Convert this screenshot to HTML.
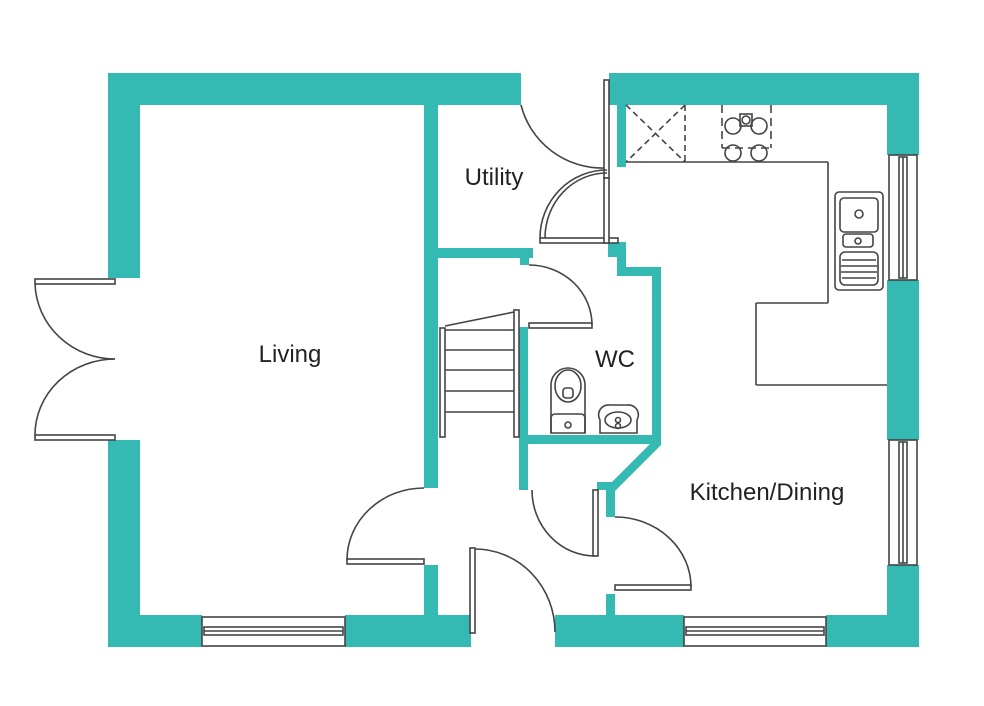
<!DOCTYPE html>
<html><head><style>html,body{margin:0;padding:0;background:#fff}svg{display:block}text{font-family:"Liberation Sans",sans-serif;fill:#222}</style></head>
<body>
<svg width="984" height="706" viewBox="0 0 984 706" xmlns="http://www.w3.org/2000/svg">
<g fill="#34b9b3">
<rect x="108" y="73" width="32" height="205"/>
<rect x="108" y="440" width="32" height="207"/>
<rect x="108" y="73" width="413" height="32"/>
<rect x="609" y="73" width="310" height="32"/>
<rect x="887" y="73" width="32" height="82"/>
<rect x="887" y="280" width="32" height="160"/>
<rect x="887" y="565" width="32" height="82"/>
<rect x="108" y="615" width="94" height="32"/>
<rect x="345" y="615" width="126" height="32"/>
<rect x="555" y="615" width="129" height="32"/>
<rect x="826" y="615" width="93" height="32"/>
<rect x="424" y="105" width="14" height="383"/>
<rect x="424" y="565" width="14" height="50"/>
<rect x="438" y="248" width="95" height="10"/>
<rect x="520" y="258" width="9" height="7"/>
<rect x="617" y="105" width="9" height="62"/>
<rect x="608" y="242" width="18" height="15"/>
<rect x="617" y="257" width="9" height="19"/>
<rect x="617" y="267" width="44" height="9"/>
<rect x="652" y="267" width="9" height="173"/>
<rect x="519" y="327" width="9" height="163"/>
<rect x="519" y="435" width="142" height="9"/>
<polygon points="652,440 661,440 661,445 615,491 606,491 606,482 612,482 652,442"/>
<rect x="597" y="482" width="18" height="8"/>
<rect x="606" y="482" width="9" height="35"/>
<rect x="606" y="594" width="9" height="21"/>
</g>
<g fill="none" stroke="#444" stroke-width="1.6">
<!-- french doors -->
<rect x="35" y="279" width="80" height="5" fill="#fff"/>
<rect x="35" y="435" width="80" height="5" fill="#fff"/>
<path d="M35,284 A80,78 0 0 0 115,359"/>
<path d="M35,435 A80,76 0 0 1 115,359"/>
<!-- windows bottom -->
<rect x="202" y="617" width="143" height="29" fill="#fff"/>
<rect x="204" y="627" width="139" height="8"/>
<line x1="204" y1="631" x2="343" y2="631"/>
<rect x="684" y="617" width="142" height="29" fill="#fff"/>
<rect x="686" y="627" width="138" height="8"/>
<line x1="686" y1="631" x2="824" y2="631"/>
<!-- windows right -->
<rect x="889" y="155" width="28" height="125" fill="#fff"/>
<rect x="899" y="157" width="8" height="121"/>
<line x1="903" y1="157" x2="903" y2="278"/>
<rect x="889" y="440" width="28" height="125" fill="#fff"/>
<rect x="899" y="442" width="8" height="121"/>
<line x1="903" y1="442" x2="903" y2="563"/>
<!-- living door -->
<rect x="347" y="559" width="77" height="5" fill="#fff"/>
<path d="M347,560 A77,72 0 0 1 424,488"/>
<!-- front door -->
<rect x="470" y="548" width="5" height="85" fill="#fff"/>
<path d="M475,549 A80,83 0 0 1 555,632"/>
<!-- kitchen door -->
<rect x="615" y="585" width="76" height="5" fill="#fff"/>
<path d="M615,517 A76,70 0 0 1 691,587"/>
<!-- hall door -->
<rect x="593" y="490" width="5" height="66" fill="#fff"/>
<path d="M532,490 A63,66 0 0 0 595,556"/>
<!-- wc door -->
<rect x="529" y="323" width="63" height="5" fill="#fff"/>
<path d="M529,265 A63,60 0 0 1 592,325"/>
<!-- utility doors -->
<rect x="604" y="80" width="5" height="98" fill="#fff"/>
<path d="M521,105 A84,83 0 0 0 604,168"/>
<rect x="540" y="238" width="78" height="5" fill="#fff"/>
<rect x="604" y="178" width="5" height="65" fill="#fff"/>
<path d="M540,238 A67,68 0 0 1 607,170"/>
<path d="M545,238 A62,65 0 0 1 607,173"/>
<!-- stairs -->
<rect x="440" y="328" width="5" height="109" fill="#fff"/>
<rect x="514" y="310" width="5" height="127" fill="#fff"/>
<line x1="445" y1="326" x2="514" y2="312"/>
<line x1="445" y1="330" x2="514" y2="330"/>
<line x1="445" y1="350" x2="514" y2="350"/>
<line x1="445" y1="370" x2="514" y2="370"/>
<line x1="445" y1="391" x2="514" y2="391"/>
<line x1="445" y1="412" x2="514" y2="412"/>
<!-- wc fittings -->
<path d="M551,433 V385 A17,17 0 0 1 585,385 V433 Z"/>
<ellipse cx="568" cy="386" rx="13" ry="16"/>
<rect x="563" y="388" width="10" height="10" rx="3"/>
<path d="M551,433 V418 A4,4 0 0 1 555,414 H581 A4,4 0 0 1 585,418 V433"/>
<circle cx="568" cy="425" r="3"/>
<path d="M600,433 V420 A10,10 0 0 1 610,405 H627 A10,10 0 0 1 637,420 V433 Z"/>
<ellipse cx="618" cy="420" rx="13" ry="8"/>
<circle cx="618" cy="420" r="2.5"/><circle cx="618" cy="426" r="2.5"/>
<!-- kitchen counter -->
<line x1="626" y1="162" x2="828" y2="162"/>
<line x1="828" y1="162" x2="828" y2="303"/>
<line x1="756" y1="303" x2="828" y2="303"/>
<line x1="756" y1="303" x2="756" y2="385"/>
<line x1="756" y1="385" x2="887" y2="385"/>
<!-- sink -->
<rect x="835" y="192" width="48" height="98" rx="4"/>
<rect x="840" y="198" width="38" height="34" rx="4"/>
<circle cx="859" cy="214" r="4"/>
<rect x="843" y="234" width="30" height="13" rx="3"/>
<circle cx="858" cy="241" r="3"/>
<rect x="840" y="252" width="38" height="33" rx="5"/>
<line x1="842" y1="260" x2="876" y2="260"/><line x1="841" y1="266" x2="877" y2="266"/><line x1="841" y1="272" x2="877" y2="272"/><line x1="842" y1="278" x2="876" y2="278"/>
<!-- hob -->
<circle cx="733" cy="126" r="8"/><circle cx="759" cy="126" r="8"/>
<circle cx="733" cy="153" r="8"/><circle cx="759" cy="153" r="8"/>
<rect x="740" y="114" width="12" height="12"/><circle cx="746" cy="120" r="4"/>
<path d="M722,105 V148 M771,105 V148 M722,148 H771" stroke-dasharray="8,5"/>
<!-- utility box -->
<path d="M626,105 L685,162 M685,105 L626,162 M685,105 V162" stroke-dasharray="6,4"/>
</g>
<text x="290" y="362" font-size="24" text-anchor="middle">Living</text>
<text x="494" y="185" font-size="24" text-anchor="middle">Utility</text>
<text x="615" y="367" font-size="24" text-anchor="middle">WC</text>
<text x="767" y="500" font-size="24" text-anchor="middle">Kitchen/Dining</text>
</svg>
</body></html>
